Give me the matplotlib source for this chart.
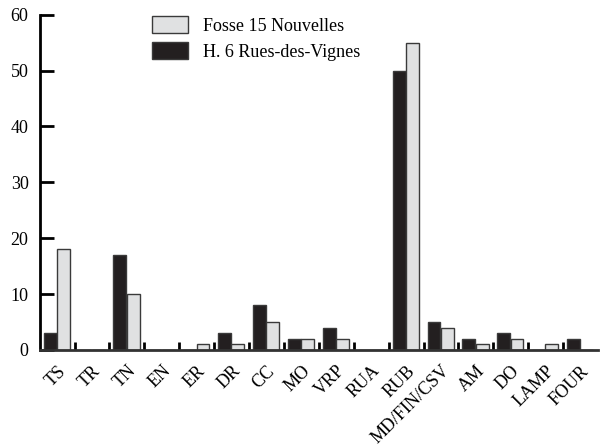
import numpy as np
import matplotlib.pyplot as plt
from matplotlib.patches import Patch

categories = ['TS', 'TR', 'TN', 'EN', 'ER', 'DR', 'CC', 'MO', 'VRP', 'RUA',
              'RUB', 'MD/FIN/CSV', 'AM', 'DO', 'LAMP', 'FOUR']
rues_vignes = [3, 0, 17, 0, 0, 3, 8, 2, 4, 0, 50, 5, 2, 3, 0, 2]
fosse15 = [18, 0, 10, 0, 1, 1, 5, 2, 2, 0, 55, 4, 1, 2, 1, 0]
yticks = [0, 10, 20, 30, 40, 50, 60]

plt.rcParams['font.family'] = ['Liberation Serif', 'DejaVu Serif']
plt.rcParams['font.size'] = 13

dark = '#231f20'
light = '#e0e1e2'
edge = '#3a3a3a'

fig = plt.figure(figsize=(6.01, 4.48), dpi=100)
ax = fig.add_axes([0.066, 0.219, 0.929, 0.748])

x = np.arange(len(categories))
w = 0.37
ax.bar(x - 0.2, rues_vignes, width=w, color=dark, edgecolor=edge, linewidth=1)
ax.bar(x + 0.18, fosse15, width=w, color=light, edgecolor=edge, linewidth=1)

ax.set_xlim(-0.5, len(categories) - 0.5)
ax.set_ylim(0, 60)
ax.set_yticks(yticks)
ax.tick_params(axis='y', direction='in', length=10, width=2, pad=8)

ax.set_xticks(x)
ax.set_xticklabels(categories, rotation=45, ha='right', va='top',
                   rotation_mode='anchor')
ax.tick_params(axis='x', which='major', length=0, pad=9)
ax.set_xticks(x[:-1] + 0.5, minor=True)
ax.tick_params(axis='x', which='minor', direction='in', length=6, width=2)

for s in ['top', 'right']:
    ax.spines[s].set_visible(False)
ax.spines['left'].set_linewidth(2)
ax.spines['bottom'].set_linewidth(2)
ax.spines['bottom'].set_color('#333333')

handles = [Patch(facecolor=light, edgecolor=edge, label='Fosse 15 Nouvelles'),
           Patch(facecolor=dark, edgecolor=edge, label='H. 6 Rues-des-Vignes')]
ax.legend(handles=handles, loc='upper left', bbox_to_anchor=(0.172, 1.045),
          frameon=False, handlelength=2.0, handleheight=1.1, labelspacing=0.4,
          handletextpad=0.8)

fig.savefig('out.png', dpi=100)
